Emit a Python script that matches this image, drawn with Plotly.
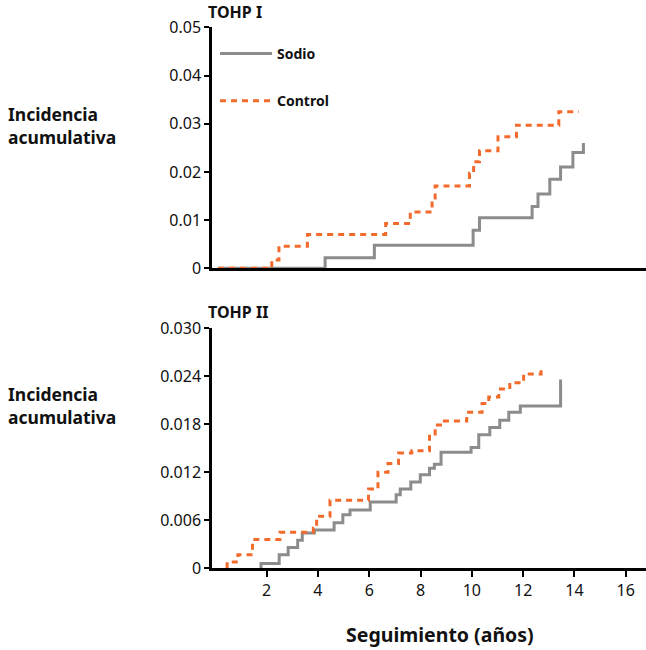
import plotly.graph_objects as go

# ---------------- data ----------------
# TOHP I
t1_sodio_x = [0.1, 4.28, 6.2, 10.05, 10.3, 12.35, 12.58, 13.04, 13.46, 13.94, 14.35]
t1_sodio_y = [0.0, 0.0022, 0.0048, 0.0079, 0.0105, 0.0128, 0.0154, 0.0185, 0.021, 0.024, 0.026]
t1_control_x = [0.1, 2.2, 2.48, 3.59, 6.64, 7.6, 8.45, 8.57, 9.91, 10.07, 10.3, 11.02, 11.74, 13.39, 14.17]
t1_control_y = [0.0, 0.0017, 0.0046, 0.007, 0.0093, 0.0117, 0.0142, 0.0171, 0.0197, 0.0221, 0.0244,
                0.0273, 0.0297, 0.0325, 0.0325]

# TOHP II
t2_sodio_x = [1.74, 1.78, 2.49, 2.84, 3.21, 3.39, 3.86, 4.63, 4.97, 5.25, 6.04, 7.05, 7.21, 7.62,
              7.99, 8.35, 8.54, 8.8, 9.97, 10.27, 10.7, 11.09, 11.44, 11.89, 13.46]
t2_sodio_y = [0.0, 0.0006, 0.0017, 0.0026, 0.0035, 0.0044, 0.0048, 0.0057, 0.0067, 0.0073, 0.0083,
              0.0092, 0.0099, 0.0108, 0.0117, 0.0125, 0.013, 0.0145, 0.0151, 0.0167, 0.0176, 0.0185,
              0.0195, 0.0203, 0.0236]
t2_control_x = [0.46, 0.46, 0.88, 1.45, 2.52, 3.82, 3.95, 4.47, 5.97, 6.34, 6.73, 7.14, 7.66, 8.35,
                8.57, 8.93, 9.8, 10.4, 10.66, 11.05, 11.48, 12.02, 12.7]
t2_control_y = [0.0, 0.0008, 0.0017, 0.0036, 0.0045, 0.005, 0.0065, 0.0085, 0.0099, 0.012, 0.0131,
                0.0144, 0.0147, 0.0168, 0.0179, 0.0184, 0.0195, 0.0206, 0.0214, 0.0224, 0.0232,
                0.0243, 0.0253]

x_ticks = [2, 4, 6, 8, 10, 12, 14, 16]
y1_ticks = [0, 0.01, 0.02, 0.03, 0.04, 0.05]
y1_labels = ["0", "0.01", "0.02", "0.03", "0.04", "0.05"]
y2_ticks = [0, 0.006, 0.012, 0.018, 0.024, 0.030]
y2_labels = ["0", "0.006", "0.012", "0.018", "0.024", "0.030"]

GRAY = "#8c8c8c"
ORANGE = "#f26b2c"
FONT = "Noto Sans"

fig = go.Figure()
fig.add_trace(go.Scatter(x=t1_sodio_x, y=t1_sodio_y, mode="lines", line_shape="hv",
                         line=dict(color=GRAY, width=3), name="Sodio",
                         legendgroup="a", xaxis="x", yaxis="y"))
fig.add_trace(go.Scatter(x=t1_control_x, y=t1_control_y, mode="lines", line_shape="hv",
                         line=dict(color=ORANGE, width=3, dash="6px,5px"), name="Control",
                         legendgroup="b", xaxis="x", yaxis="y"))
fig.add_trace(go.Scatter(x=t2_sodio_x, y=t2_sodio_y, mode="lines", line_shape="hv",
                         line=dict(color=GRAY, width=3), name="Sodio", showlegend=False,
                         xaxis="x2", yaxis="y2"))
fig.add_trace(go.Scatter(x=t2_control_x, y=t2_control_y, mode="lines", line_shape="hv",
                         line=dict(color=ORANGE, width=3, dash="6px,5px"), name="Control",
                         showlegend=False, xaxis="x2", yaxis="y2"))

W, H = 646, 650
xdom = [212 / W, 1.0]
xr = [-0.13, 16.79]
y1dom = [1 - 268.3 / H, 1 - 27.3 / H]
y2dom = [1 - 568.3 / H, 1 - 328.3 / H]

axis_common = dict(showgrid=False, zeroline=False, showline=True, linecolor="black",
                   linewidth=2.5, automargin=False)
tickfont = dict(family=FONT, size=16, color="#111")

fig.update_layout(
    width=W, height=H,
    margin=dict(l=0, r=0, t=0, b=0),
    paper_bgcolor="white", plot_bgcolor="white",
    xaxis=dict(domain=xdom, range=xr, anchor="y", showticklabels=False, ticks="", **axis_common),
    yaxis=dict(domain=y1dom, range=[0, 0.05], anchor="x", tickvals=y1_ticks, ticktext=y1_labels,
               ticks="outside", ticklen=5, tickwidth=2, tickcolor="black", tickfont=tickfont,
               **axis_common),
    xaxis2=dict(domain=xdom, range=xr, anchor="y2", tickvals=x_ticks, ticks="outside", ticklen=6,
                tickwidth=2, tickcolor="black", tickfont=tickfont, **axis_common),
    yaxis2=dict(domain=y2dom, range=[0, 0.03], anchor="x2", tickvals=y2_ticks, ticktext=y2_labels,
                ticks="outside", ticklen=5, tickwidth=2, tickcolor="black", tickfont=tickfont,
                **axis_common),
    legend=dict(x=215 / W, y=1 - 38 / H, xanchor="left", yanchor="top",
                font=dict(family=FONT, size=14, color="#111", weight="bold"),
                bgcolor="rgba(0,0,0,0)", tracegroupgap=26, itemwidth=52),
    showlegend=True,
)

ann = []
ann.append(dict(text="<b>TOHP I</b>", x=206 / W, y=1 - 12 / H, xref="paper", yref="paper",
                xanchor="left", yanchor="middle", showarrow=False,
                font=dict(family=FONT, size=16, color="#111")))
ann.append(dict(text="<b>TOHP II</b>", x=206 / W, y=1 - 312 / H, xref="paper", yref="paper",
                xanchor="left", yanchor="middle", showarrow=False,
                font=dict(family=FONT, size=16, color="#111")))
for yc in (126, 405):
    ann.append(dict(text="<b>Incidencia<br>acumulativa</b>", x=6 / W, y=1 - yc / H,
                    xref="paper", yref="paper", xanchor="left", yanchor="middle", align="left",
                    showarrow=False, font=dict(family=FONT, size=17.5, color="#111")))
ann.append(dict(text="<b>Seguimiento (años)</b>", x=440 / W, y=1 - 634 / H, xref="paper",
                yref="paper", xanchor="center", yanchor="middle", showarrow=False,
                font=dict(family=FONT, size=19.5, color="#111")))
fig.update_layout(annotations=ann)

fig.write_html("out.html", config={"displayModeBar": False},
               post_script="document.body.style.margin='0px';document.body.style.overflow='hidden';")
